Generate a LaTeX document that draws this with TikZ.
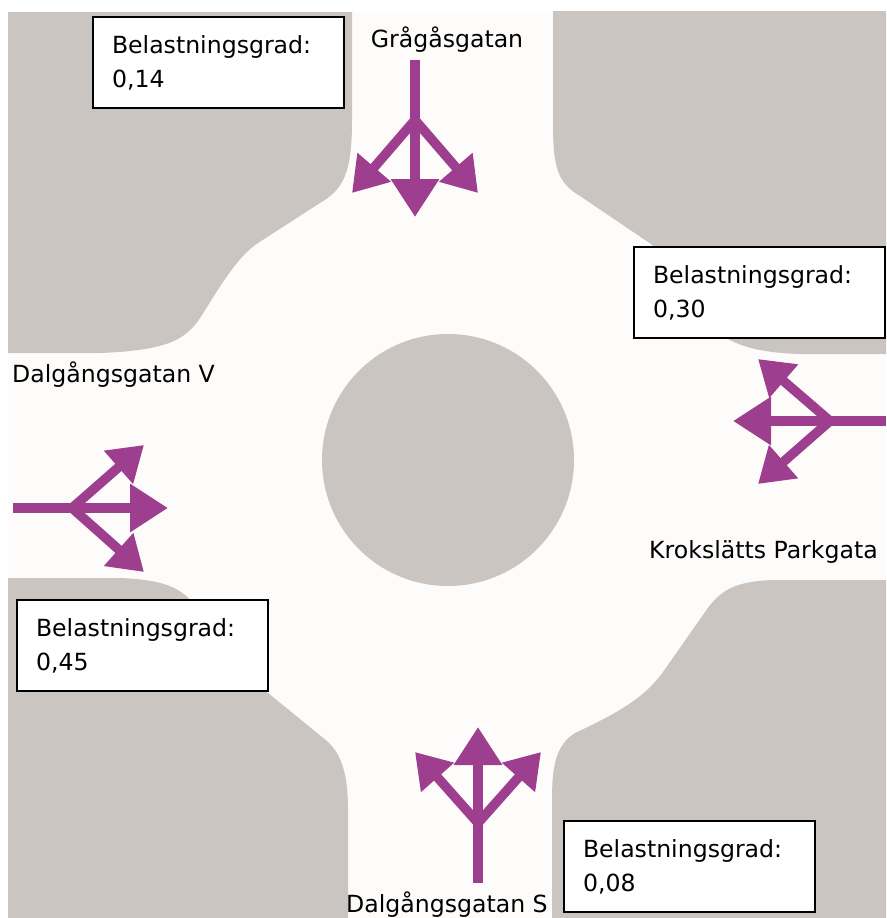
\documentclass[tikz,border=0pt]{standalone}
\usepackage{fontspec}
\setmainfont{DejaVu Sans}
\usetikzlibrary{arrows.meta}
\definecolor{blockc}{RGB}{203,197,193}
\definecolor{roadc}{RGB}{253,252,250}
\definecolor{purp}{RGB}{158,62,142}
\begin{document}
\begin{tikzpicture}[x=1pt,y=-1pt,
  lbl/.style={font=\fontsize{23.6}{34}\selectfont, inner sep=0pt},
  infobox/.style={draw=black, line width=2pt, fill=white,
    font=\fontsize{23.6}{34}\selectfont, align=left, text width=213pt,
    inner xsep=19pt, inner ysep=0pt, minimum height=91pt, anchor=north west},
  flowstem/.style={draw=purp, line width=9.5pt},
  mainflow/.style={draw=purp, line width=9.5pt, line cap=round, -{Triangle[length=38pt,width=46pt]}},
  sideflow/.style={draw=purp, line width=9.5pt, line cap=round, -{Triangle[length=34pt,width=42pt]}},
  blockfill/.style={fill=blockc}]
\useasboundingbox (0,0) rectangle (886,918);
\fill[white] (0,0) rectangle (886,918);
\fill[roadc] (8,12) rectangle (886,918);

% corner blocks
\path[blockfill] (8,12) -- (352,12) -- (352,120)
  .. controls (352,172) and (344,189) .. (320,203) -- (258,243)
  .. controls (240,255) and (225,278) .. (207,307)
  .. controls (190,335) and (180,350) .. (100,353) -- (8,353) -- cycle;
\path[blockfill] (886,11) -- (553,11) -- (553,125)
  .. controls (553,168) and (558,183) .. (580,196) -- (648,242)
  .. controls (665,253) and (680,278) .. (697,305)
  .. controls (712,332) and (730,352) .. (800,354) -- (886,354) -- cycle;
\path[blockfill] (8,578) -- (120,578)
  .. controls (170,580) and (185,590) .. (200,612)
  .. controls (220,645) and (240,675) .. (262,688) -- (322,737)
  .. controls (340,750) and (348,770) .. (348,810) -- (348,918) -- (8,918) -- cycle;
\path[blockfill] (886,580) -- (775,580)
  .. controls (735,581) and (720,590) .. (705,612) -- (663,672)
  .. controls (645,697) and (620,712) .. (575,733)
  .. controls (556,745) and (552,765) .. (552,800) -- (552,918) -- (886,918) -- cycle;
\fill[blockc] (448,460) circle[radius=126];

% arrows: north entry (Grågåsgatan)
\coordinate (n0) at (415,60);  \coordinate (nB) at (415,120);
\coordinate (nM) at (415,217); \coordinate (nL) at (352,193); \coordinate (nR) at (478,193);
\draw[flowstem] (n0) -- (nB);
\draw[sideflow] (nB) -- (nL);
\draw[sideflow] (nB) -- (nR);
\draw[mainflow] (nB) -- (nM);

% west entry (Dalgångsgatan V)
\coordinate (w0) at (13,508);  \coordinate (wB) at (72,508);
\coordinate (wM) at (168,508); \coordinate (wU) at (144,445); \coordinate (wD) at (144,572);
\draw[flowstem] (w0) -- (wB);
\draw[sideflow] (wB) -- (wU);
\draw[sideflow] (wB) -- (wD);
\draw[mainflow] (wB) -- (wM);

% east entry (Krokslätts Parkgata)
\coordinate (e0) at (886,421); \coordinate (eB) at (830,421);
\coordinate (eM) at (733,421); \coordinate (eU) at (758,359); \coordinate (eD) at (758,484);
\draw[flowstem] (e0) -- (eB);
\draw[sideflow] (eB) -- (eU);
\draw[sideflow] (eB) -- (eD);
\draw[mainflow] (eB) -- (eM);

% south entry (Dalgångsgatan S)
\coordinate (s0) at (478,883); \coordinate (sB) at (478,823);
\coordinate (sM) at (478,727); \coordinate (sL) at (415,752); \coordinate (sR) at (541,752);
\draw[flowstem] (s0) -- (sB);
\draw[sideflow] (sB) -- (sL);
\draw[sideflow] (sB) -- (sR);
\draw[mainflow] (sB) -- (sM);

% street names
\node[lbl, anchor=base] (gra) at (447,47) {Grågåsgatan};
\node[lbl, anchor=base west] (dalv) at (12,382) {Dalgångsgatan V};
\node[lbl, anchor=base west] (krok) at (649,558) {Krokslätts Parkgata};
\node[lbl, anchor=base west] (dals) at (346,912) {Dalgångsgatan S};

% load boxes
\node[infobox] (bn) at (92,16) {Belastningsgrad:\\0,14};
\node[infobox] (be) at (633,246) {Belastningsgrad:\\0,30};
\node[infobox] (bw) at (16,599) {Belastningsgrad:\\0,45};
\node[infobox] (bs) at (563,820) {Belastningsgrad:\\0,08};
\end{tikzpicture}
\end{document}
